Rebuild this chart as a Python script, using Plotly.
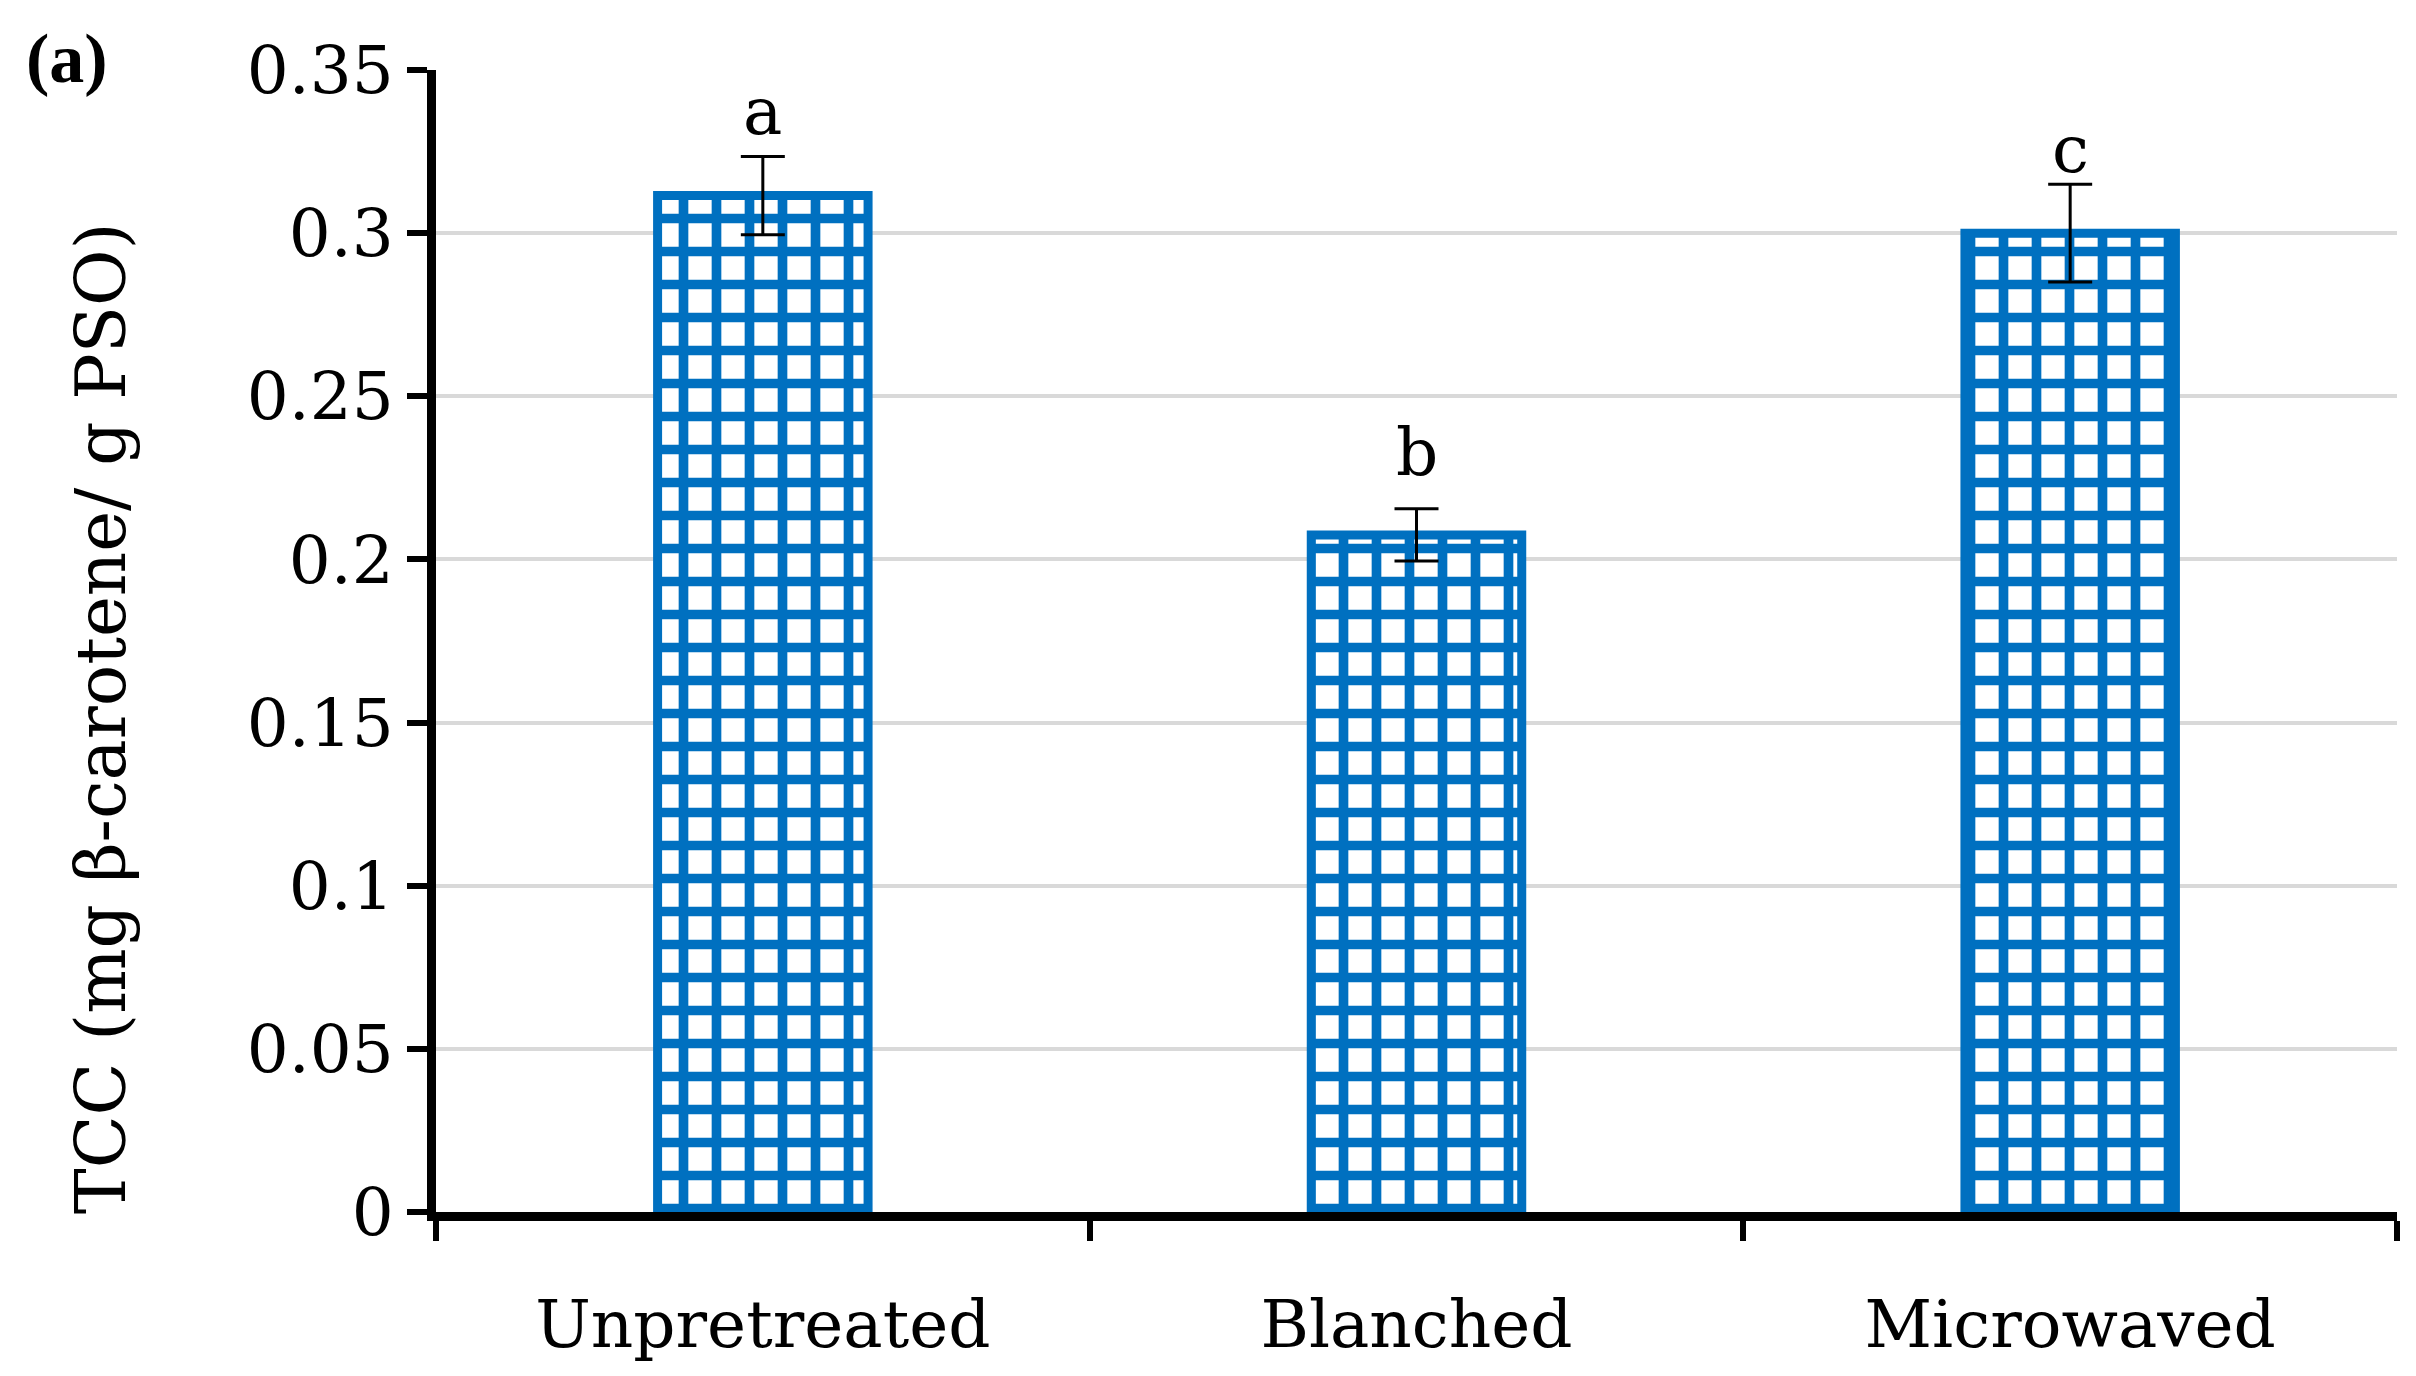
import plotly.graph_objects as go

categories = ["Unpretreated", "Blanched", "Microwaved"]
tcc_values = [0.3115, 0.2075, 0.300]
tcc_errors = [0.012, 0.008, 0.015]
sig_letters = ["a", "b", "c"]
y_ticks = [0, 0.05, 0.1, 0.15, 0.2, 0.25, 0.3, 0.35]
y_tick_labels = ["0", "0.05", "0.1", "0.15", "0.2", "0.25", "0.3", "0.35"]
y_title = "TCC (mg β-carotene/ g PSO)"

# per-letter label offsets (pixels), styling only
letter_yshift = [4, 16, -6]

BLUE = "#0070C0"
FONT = "DejaVu Serif"
FS = 66

fig = go.Figure()
fig.add_trace(go.Bar(
    x=categories,
    y=tcc_values,
    width=0.322,
    marker=dict(
        color="white",
        line=dict(color=BLUE, width=9),
        pattern=dict(shape="+", fgcolor=BLUE, fgopacity=1, size=33, solidity=0.5, fillmode="overlay"),
    ),
    error_y=dict(type="data", array=tcc_errors, visible=True, color="black", thickness=3, width=22),
    showlegend=False,
))

for cat, v, e, lab, ys in zip(categories, tcc_values, tcc_errors, sig_letters, letter_yshift):
    fig.add_annotation(x=cat, y=v + e, text=lab, showarrow=False, yanchor="bottom",
                       yshift=ys, font=dict(family=FONT, size=FS, color="black"))

fig.add_annotation(xref="paper", yref="paper", x=-0.188, y=1.01, text="<b>(a)</b>", showarrow=False,
                   xanchor="center", yanchor="middle", font=dict(family="Liberation Serif", size=70, color="black"))

fig.add_annotation(xref="paper", yref="paper", x=-0.171, y=0.432, text=y_title, textangle=-90,
                   showarrow=False, xanchor="center", yanchor="middle",
                   font=dict(family=FONT, size=69, color="black"))

fig.update_layout(
    width=2416, height=1376,
    margin=dict(l=428, r=27, t=62, b=172, autoexpand=False),
    paper_bgcolor="white", plot_bgcolor="white",
    font=dict(family=FONT, size=FS, color="black"),
)
fig.update_xaxes(
    type="category", range=[-0.5, 2.5], tickson="boundaries", automargin=False,
    showline=True, linecolor="black", linewidth=9,
    ticks="outside", ticklen=20, tickwidth=6, tickcolor="black",
    showgrid=False, tickfont=dict(family=FONT, size=FS), ticklabelstandoff=47,
)
fig.update_yaxes(
    range=[0, 0.35], tickvals=y_ticks, ticktext=y_tick_labels, automargin=False,
    showline=True, linecolor="black", linewidth=9,
    ticks="outside", ticklen=20, tickwidth=6, tickcolor="black",
    showgrid=True, gridcolor="#D9D9D9", gridwidth=4, zeroline=False,
    tickfont=dict(family=FONT, size=FS),
)

fig.write_html("out.html")
